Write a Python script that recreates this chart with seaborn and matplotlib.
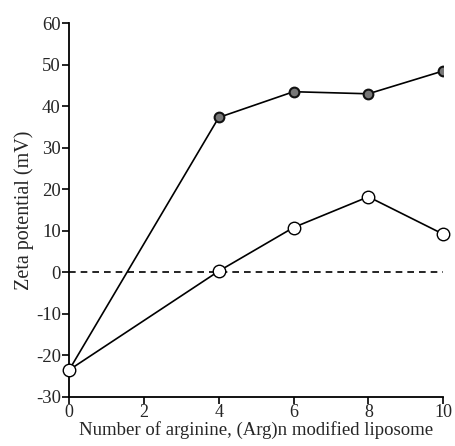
import pandas as pd
import matplotlib
matplotlib.use("Agg")
import matplotlib.pyplot as plt
import seaborn as sns

# ---------------------------------
# Data
# ---------------------------------

arg_number = [0, 4, 6, 8, 10]
zeta_filled = [-23.5, 37.3, 43.5, 43.0, 48.5]
zeta_open = [-23.5, 0.3, 10.8, 18.2, 9.2]

df = pd.DataFrame({
    "n": arg_number * 2,
    "zeta": zeta_filled + zeta_open,
    "series": ["filled"] * len(arg_number) + ["open"] * len(arg_number),
})

# ---------------------------------
# Plot
# ---------------------------------

sns.set_style("ticks")
plt.rcParams['font.family'] = ['Liberation Serif', 'DejaVu Serif']
plt.rcParams['axes.unicode_minus'] = False

fig = plt.figure(figsize=(4.55, 4.46), dpi=100)
ax = fig.add_axes([0.152, 0.11, 0.822, 0.838])

ax.axhline(0, color="black", lw=1.2, ls=(0, (4, 3)), zorder=1)

sns.lineplot(
    data=df[df.series == "filled"], x="n", y="zeta",
    color="black", lw=1.2, marker="o", markersize=7,
    markerfacecolor="#777777", markeredgecolor="#111111", markeredgewidth=1.5,
    ax=ax, zorder=3,
)
sns.lineplot(
    data=df[df.series == "open"], x="n", y="zeta",
    color="black", lw=1.2, marker="o", markersize=9,
    markerfacecolor="white", markeredgecolor="black", markeredgewidth=1.0,
    ax=ax, zorder=4, clip_on=False,
)

ax.set_xlim(0, 10)
ax.set_ylim(-30, 60)
ax.set_xticks([0, 2, 4, 6, 8, 10])
ax.set_yticks(range(-30, 61, 10))
ax.tick_params(axis="y", labelsize=13.5, length=5, width=1.2, color="black", pad=1)
ax.tick_params(axis="x", labelsize=13, length=5, width=1.2, color="black", pad=0)

for s in ["top", "right"]:
    ax.spines[s].set_visible(False)
for s in ["left", "bottom"]:
    ax.spines[s].set_linewidth(1.3)
    ax.spines[s].set_color("black")

ax.set_xlabel("Number of arginine, (Arg)n modified liposome", fontsize=13.5, labelpad=0)
ax.set_ylabel("Zeta potential (mV)", fontsize=14.5, labelpad=1)

fig.savefig("out.png", dpi=100)
